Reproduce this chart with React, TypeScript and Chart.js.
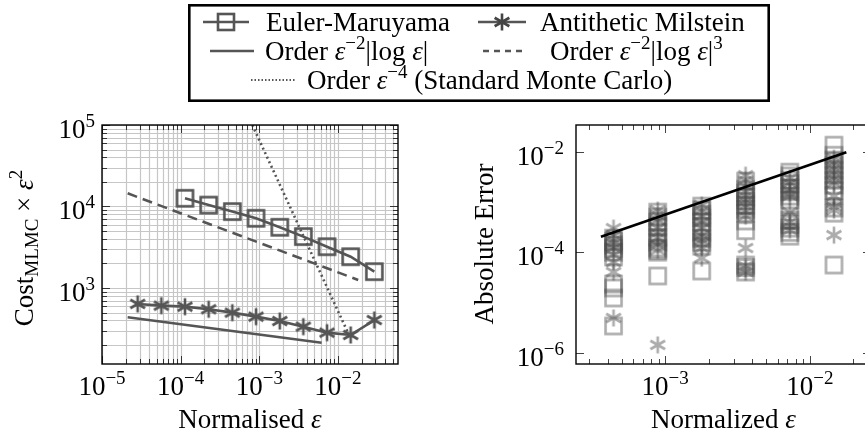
import React, { useEffect, useRef } from 'react';
import { Chart, registerables } from 'chart.js';
Chart.register(...registerables);

const FONT = '"Liberation Serif", "Times New Roman", serif';
const FS = 27;
const ES = 19;

// ---------- Left panel (cost) ----------
const emEps = [1.135e-4, 2.27e-4, 4.54e-4, 9.08e-4, 1.82e-3, 3.63e-3, 7.26e-3, 1.45e-2, 2.9e-2];
const emCost = [12600, 10400, 8650, 7160, 5560, 4270, 3210, 2420, 1585];
const amEps = [2.84e-5, 5.68e-5, 1.135e-4, 2.27e-4, 4.54e-4, 9.08e-4, 1.82e-3, 3.63e-3, 7.26e-3, 1.45e-2, 2.9e-2];
const amCost = [637, 607, 590, 548, 498, 445, 393, 335, 283, 265, 404];
const logRefEps = [2.12e-5, 6.2e-3];
const logRefCost = [437, 213];
const log3RefEps = [2.12e-5, 1.81e-2];
const log3RefCost = [14500, 1254];
const mcRefEps = [8.15e-4, 1.35e-2];
const mcRefCost = [1.0e5, 278];
const leftXTicks = [1e-5, 1e-4, 1e-3, 1e-2];
const leftXTickLabels = ['−5', '−4', '−3', '−2'];
const leftYTicks = [1e3, 1e4, 1e5];
const leftYTickLabels = ['3', '4', '5'];

// ---------- Right panel (error) ----------
const errEps = [4.4e-4, 8.89e-4, 1.79e-3, 3.6e-3, 7.28e-3, 1.47e-2];
const sqCol1 = [1.92e-4, 1.65e-4, 1.4e-4, 1.2e-4, 1.01e-4, 8.1e-5, 2.35e-5, 1.96e-5, 1.24e-5, 3.45e-6];
const sqCol2 = [6.3e-4, 5.0e-4, 3.99e-4, 3.2e-4, 2.53e-4, 2.0e-4, 1.6e-4, 1.22e-4, 1.1e-4, 1.01e-4, 3.39e-5];
const sqCol3 = [8.3e-4, 7.0e-4, 5.75e-4, 4.8e-4, 3.99e-4, 3.2e-4, 2.53e-4, 1.92e-4, 1.6e-4, 1.33e-4, 4.26e-5];
const sqCol4 = [2.6e-3, 1.8e-3, 1.5e-3, 1.26e-3, 1.05e-3, 8.7e-4, 7.2e-4, 6.0e-4, 4.2e-4, 2.7e-4, 5.6e-5, 5.0e-5, 4.07e-5];
const sqCol5 = [3.92e-3, 3.3e-3, 2.72e-3, 2.3e-3, 1.89e-3, 1.6e-3, 1.31e-3, 1.1e-3, 8.3e-4, 4.37e-4, 3.6e-4, 3.03e-4, 2.5e-4, 2.1e-4];
const sqCol6 = [1.35e-2, 8.5e-3, 6.8e-3, 5.4e-3, 4.3e-3, 3.42e-3, 2.7e-3, 2.16e-3, 1.7e-3, 1.37e-3, 7.6e-4, 6.0e-4, 5.6e-5];
const stCol1 = [3.03e-4, 2.2e-4, 1.75e-4, 1.5e-4, 1.22e-4, 9.0e-5, 6.42e-5, 4.07e-5, 4.97e-6];
const stCol2 = [6.9e-4, 5.5e-4, 4.37e-4, 3.03e-4, 2.4e-4, 1.92e-4, 1.4e-4, 1.1e-4, 1.45e-6];
const stCol3 = [8.7e-4, 6.8e-4, 5.25e-4, 4.0e-4, 3.03e-4, 2.2e-4, 1.75e-4, 1.5e-4, 1.22e-4, 7.7e-5];
const stCol4 = [3.42e-3, 2.7e-3, 2.07e-3, 1.6e-3, 1.31e-3, 1.05e-3, 8.3e-4, 6.5e-4, 5.25e-4, 1.22e-4, 5.35e-5, 4.7e-5, 4.07e-5];
const stCol5 = [2.98e-3, 2.4e-3, 1.72e-3, 1.5e-3, 1.31e-3, 6.3e-4, 3.99e-4, 3.3e-4, 2.77e-4];
const stCol6 = [7.4e-3, 6.0e-3, 4.7e-3, 3.8e-3, 2.98e-3, 2.4e-3, 1.31e-3, 8.0e-4, 6.9e-4, 2.2e-4];
const rateEps = [3.6e-4, 1.79e-2];
const rateErr = [2.04e-4, 9.7e-3];
const rightXTicks = [1e-3, 1e-2];
const rightXTickLabels = ['−3', '−2'];
const rightYTicks = [1e-6, 1e-4, 1e-2];
const rightYTickLabels = ['−6', '−4', '−2'];

const sqCols = [sqCol1, sqCol2, sqCol3, sqCol4, sqCol5, sqCol6];
const stCols = [stCol1, stCol2, stCol3, stCol4, stCol5, stCol6];

// ---------- Legend ----------
const legendNames = ['Euler-Maruyama', 'Antithetic Milstein'];

function pts(xs: number[], ys: number[]) {
  return xs.map((x, i) => ({ x, y: ys[i] }));
}

function squareMarker(side: number, lw: number, color: string) {
  const s = Math.ceil(side + lw + 2);
  const c = document.createElement('canvas');
  c.width = s; c.height = s;
  const g = c.getContext('2d')!;
  g.strokeStyle = color; g.lineWidth = lw;
  g.strokeRect((s - side) / 2, (s - side) / 2, side, side);
  return c;
}

function starPath(g: CanvasRenderingContext2D, cx: number, cy: number, r: number) {
  [90, 30, 150].forEach((a) => {
    const t = (a * Math.PI) / 180;
    g.moveTo(cx - r * Math.cos(t), cy - r * Math.sin(t));
    g.lineTo(cx + r * Math.cos(t), cy + r * Math.sin(t));
  });
}

function starMarker(r: number, lw: number, color: string) {
  const s = Math.ceil(2 * r + lw + 2);
  const c = document.createElement('canvas');
  c.width = s; c.height = s;
  const g = c.getContext('2d')!;
  g.strokeStyle = color; g.lineWidth = lw;
  g.beginPath();
  starPath(g, s / 2, s / 2, r);
  g.stroke();
  return c;
}

function minorValues(min: number, max: number) {
  const out: number[] = [];
  for (let e = Math.floor(Math.log10(min)); e <= Math.ceil(Math.log10(max)); e++) {
    for (let k = 1; k <= 9; k++) {
      const v = k * Math.pow(10, e);
      if (v >= min && v <= max) out.push(v);
    }
  }
  return out;
}

type Part = { t: string; s: number; dy?: number; it?: boolean };
function drawRich(ctx: CanvasRenderingContext2D, parts: Part[], x: number, y: number, align: 'left' | 'center' | 'right') {
  const widths = parts.map((p) => {
    ctx.font = `${p.it ? 'italic ' : ''}${p.s}px ${FONT}`;
    return ctx.measureText(p.t).width;
  });
  const total = widths.reduce((a, b) => a + b, 0);
  let sx = align === 'left' ? x : align === 'center' ? x - total / 2 : x - total;
  ctx.textAlign = 'left';
  ctx.textBaseline = 'alphabetic';
  ctx.fillStyle = '#000';
  parts.forEach((p, i) => {
    ctx.font = `${p.it ? 'italic ' : ''}${p.s}px ${FONT}`;
    ctx.fillText(p.t, sx, y + (p.dy || 0));
    sx += widths[i];
  });
}

function pow10Parts(exp: string): Part[] {
  return [{ t: '10', s: FS }, { t: exp, s: ES, dy: -11 }];
}

type DecoCfg = {
  grid: boolean;
  xTicks: number[]; xLabels: string[];
  yTicks: number[]; yLabels: string[];
  xMinor: boolean; yMinor: boolean;
  yLabelGap: number;
  xTitle: Part[]; yTitle: Part[];
  xTitleY: number; yTitleX: number; yTitleCY: number;
  tickColor: string;
};

function decoPlugin(cfg: DecoCfg) {
  return {
    id: 'deco',
    beforeDatasetsDraw(chart: any) {
      if (!cfg.grid) return;
      const { ctx, chartArea: a, scales } = chart;
      const xs = scales.x, ys = scales.y;
      ctx.save();
      ctx.strokeStyle = '#c6c6c6';
      ctx.lineWidth = 1.2;
      ctx.beginPath();
      minorValues(xs.min, xs.max).forEach((v) => {
        const p = Math.round(xs.getPixelForValue(v)) + 0.5;
        ctx.moveTo(p, a.top); ctx.lineTo(p, a.bottom);
      });
      minorValues(ys.min, ys.max).forEach((v) => {
        const p = Math.round(ys.getPixelForValue(v)) + 0.5;
        ctx.moveTo(a.left, p); ctx.lineTo(a.right, p);
      });
      ctx.stroke();
      ctx.restore();
    },
    afterDatasetsDraw(chart: any) {
      const { ctx, chartArea: a, scales } = chart;
      const xs = scales.x, ys = scales.y;
      ctx.save();
      ctx.strokeStyle = cfg.tickColor;
      ctx.lineWidth = 1;
      ctx.beginPath();
      const xMaj = cfg.xTicks;
      const xAll = cfg.xMinor ? minorValues(xs.min, xs.max) : xMaj;
      xAll.forEach((v) => {
        const major = xMaj.some((m) => Math.abs(m - v) / m < 1e-9);
        const len = major ? 8 : 5;
        const p = Math.round(xs.getPixelForValue(v)) + 0.5;
        ctx.moveTo(p, a.bottom); ctx.lineTo(p, a.bottom - len);
        ctx.moveTo(p, a.top); ctx.lineTo(p, a.top + len);
      });
      const yMaj = cfg.yTicks;
      const yAll = cfg.yMinor ? minorValues(ys.min, ys.max) : yMaj;
      yAll.forEach((v) => {
        const major = yMaj.some((m) => Math.abs(m - v) / m < 1e-9);
        const len = major ? 8 : 5;
        const p = Math.round(ys.getPixelForValue(v)) + 0.5;
        ctx.moveTo(a.left, p); ctx.lineTo(a.left + len, p);
        ctx.moveTo(a.right, p); ctx.lineTo(a.right - len, p);
      });
      ctx.stroke();
      ctx.strokeStyle = '#000';
      ctx.lineWidth = 1.4;
      ctx.strokeRect(a.left, a.top, a.right - a.left, a.bottom - a.top);
      cfg.xTicks.forEach((v, i) => {
        drawRich(ctx, pow10Parts(cfg.xLabels[i]), xs.getPixelForValue(v), a.bottom + 31, 'center');
      });
      cfg.yTicks.forEach((v, i) => {
        drawRich(ctx, pow10Parts(cfg.yLabels[i]), a.left - cfg.yLabelGap, ys.getPixelForValue(v) + 13, 'right');
      });
      drawRich(ctx, cfg.xTitle, (a.left + a.right) / 2, cfg.xTitleY, 'center');
      ctx.translate(cfg.yTitleX, cfg.yTitleCY);
      ctx.rotate(-Math.PI / 2);
      drawRich(ctx, cfg.yTitle, 0, 0, 'center');
      ctx.restore();
    },
  };
}

function baseOptions(padding: any, xr: [number, number], yr: [number, number]): any {
  return {
    animation: false,
    responsive: false,
    maintainAspectRatio: false,
    events: [],
    layout: { padding, autoPadding: false },
    plugins: { legend: { display: false }, tooltip: { enabled: false } },
    scales: {
      x: { type: 'logarithmic', min: xr[0], max: xr[1], display: false },
      y: { type: 'logarithmic', min: yr[0], max: yr[1], display: false },
    },
  };
}

function drawLegend(c: HTMLCanvasElement) {
  const g = c.getContext('2d')!;
  g.clearRect(0, 0, c.width, c.height);
  g.fillStyle = '#fff';
  g.fillRect(188, 4, 582, 98);
  g.strokeStyle = '#000';
  g.lineWidth = 2.6;
  g.strokeRect(189.3, 5.3, 579.4, 95.4);
  const dark = '#555555';
  const seg = (x1: number, x2: number, y: number, dash: number[], lw = 2.6) => {
    g.save();
    g.strokeStyle = dark; g.lineWidth = lw; g.setLineDash(dash);
    g.beginPath(); g.moveTo(x1, y); g.lineTo(x2, y); g.stroke();
    g.restore();
  };
  const eps: Part = { t: 'ε', s: FS, it: true };
  // row 1
  const r1 = 22, r2 = 51, r3 = 80;
  seg(203, 249, r1, []);
  g.save(); g.strokeStyle = dark; g.lineWidth = 2.6; g.strokeRect(218, r1 - 8, 16, 16); g.restore();
  drawRich(g, [{ t: legendNames[0], s: FS }], 266, r1 + 9, 'left');
  seg(478, 526, r1, []);
  g.save(); g.strokeStyle = '#444'; g.lineWidth = 2.6; g.beginPath(); starPath(g, 502, r1, 8.5); g.stroke(); g.restore();
  drawRich(g, [{ t: legendNames[1], s: FS }], 540, r1 + 9, 'left');
  // row 2
  seg(210, 254, r2, []);
  drawRich(g, [{ t: 'Order ', s: FS }, eps, { t: '−2', s: ES, dy: -11 }, { t: '|log ', s: FS }, eps, { t: '|', s: FS }], 265, r2 + 9, 'left');
  seg(483, 525, r2, [6, 5]);
  drawRich(g, [{ t: 'Order ', s: FS }, eps, { t: '−2', s: ES, dy: -11 }, { t: '|log ', s: FS }, eps, { t: '|', s: FS }, { t: '3', s: ES, dy: -11 }], 550, r2 + 9, 'left');
  // row 3
  seg(251, 295, r3, [1.5, 2], 2);
  drawRich(g, [{ t: 'Order ', s: FS }, eps, { t: '−4', s: ES, dy: -11 }, { t: ' (Standard Monte Carlo)', s: FS }], 307, r3 + 9, 'left');
}

export default function App() {
  const leftRef = useRef<HTMLCanvasElement>(null);
  const rightRef = useRef<HTMLCanvasElement>(null);
  const legRef = useRef<HTMLCanvasElement>(null);

  useEffect(() => {
    const dark = '#555555';
    const sqDark = squareMarker(16, 2.6, dark);
    const stDark = starMarker(8.5, 2.6, dark);
    const light = 'rgba(70,70,70,0.45)';
    const sqLight = squareMarker(16, 2.6, light);
    const stLight = starMarker(8.5, 2.6, light);

    const left = new Chart(leftRef.current!, {
      type: 'scatter',
      data: {
        datasets: [
          { data: pts(emEps, emCost), showLine: true, borderColor: dark, borderWidth: 2.6, pointStyle: sqDark as any, pointRadius: 9 },
          { data: pts(amEps, amCost), showLine: true, borderColor: dark, borderWidth: 2.6, pointStyle: stDark as any, pointRadius: 9 },
          { data: pts(logRefEps, logRefCost), showLine: true, borderColor: dark, borderWidth: 2.6, pointRadius: 0 },
          { data: pts(log3RefEps, log3RefCost), showLine: true, borderColor: dark, borderWidth: 2.6, borderDash: [10, 6], pointRadius: 0 },
          { data: pts(mcRefEps, mcRefCost), showLine: true, borderColor: dark, borderWidth: 2.6, borderDash: [2, 3], pointRadius: 0 },
        ],
      } as any,
      options: baseOptions({ left: 102, right: 42, top: 125, bottom: 76 }, [1e-5, 0.058], [116.7, 1e5]),
      plugins: [
        decoPlugin({
          grid: true,
          xTicks: leftXTicks, xLabels: leftXTickLabels,
          yTicks: leftYTicks, yLabels: leftYTickLabels,
          xMinor: true, yMinor: true, yLabelGap: 7,
          xTitle: [{ t: 'Normalised ', s: FS }, { t: 'ε', s: FS, it: true }],
          yTitle: [{ t: 'Cost', s: FS }, { t: 'MLMC', s: ES, dy: 5 }, { t: ' × ', s: FS }, { t: 'ε', s: FS, it: true }, { t: '2', s: ES, dy: -11 }],
          xTitleY: 428, yTitleX: 33, yTitleCY: 248,
          tickColor: '#333',
        }) as any,
      ],
    });

    const rightSets: any[] = [
      { data: pts(rateEps, rateErr), showLine: true, borderColor: '#000', borderWidth: 2.6, pointRadius: 0 },
    ];
    stCols.forEach((col, i) => {
      rightSets.push({ data: col.map((y) => ({ x: errEps[i], y })), pointStyle: stLight, pointRadius: 9 });
    });
    sqCols.forEach((col, i) => {
      rightSets.push({ data: col.map((y) => ({ x: errEps[i], y })), pointStyle: sqLight, pointRadius: 9 });
    });

    const right = new Chart(rightRef.current!, {
      type: 'scatter',
      data: { datasets: rightSets },
      options: baseOptions({ left: 144, right: 21, top: 125, bottom: 76 }, [2.42e-4, 0.0265], [6.05e-7, 0.0339]),
      plugins: [
        decoPlugin({
          grid: false,
          xTicks: rightXTicks, xLabels: rightXTickLabels,
          yTicks: rightYTicks, yLabels: rightYTickLabels,
          xMinor: true, yMinor: false, yLabelGap: 12,
          xTitle: [{ t: 'Normalized ', s: FS }, { t: 'ε', s: FS, it: true }],
          yTitle: [{ t: 'Absolute Error', s: FS }],
          xTitleY: 428, yTitleX: 61, yTitleCY: 244,
          tickColor: '#444',
        }) as any,
      ],
    });

    drawLegend(legRef.current!);

    return () => {
      left.destroy();
      right.destroy();
    };
  }, []);

  return (
    <div style={{ position: 'absolute', left: 0, top: 0, width: 865, height: 440, overflow: 'hidden', background: '#fff' }}>
      <canvas ref={leftRef} width={440} height={440} style={{ position: 'absolute', left: 0, top: 0, width: 440, height: 440 }} />
      <canvas ref={rightRef} width={460} height={440} style={{ position: 'absolute', left: 432, top: 0, width: 460, height: 440 }} />
      <canvas ref={legRef} width={865} height={110} style={{ position: 'absolute', left: 0, top: 0, width: 865, height: 110 }} />
    </div>
  );
}
